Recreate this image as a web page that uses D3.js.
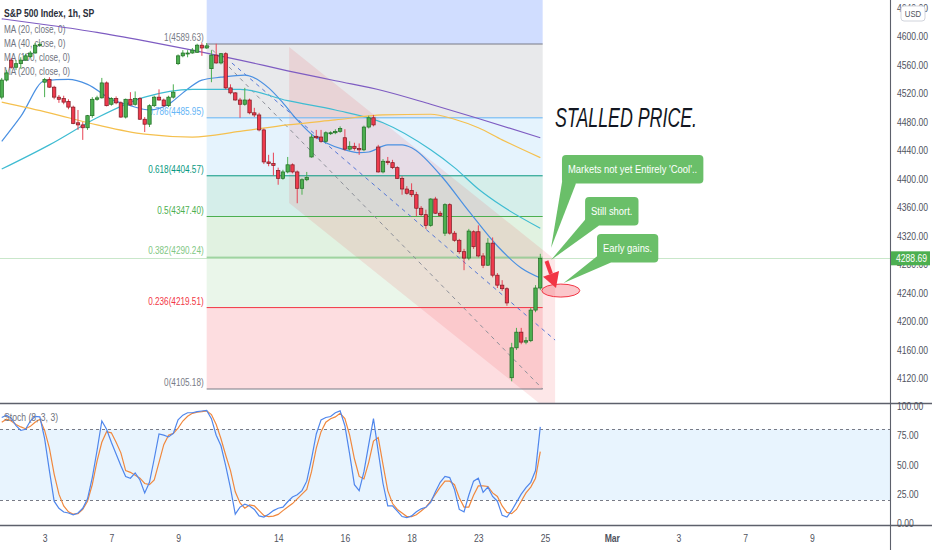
<!DOCTYPE html>
<html>
<head>
<meta charset="utf-8">
<title>S&amp;P 500 Index, 1h</title>
<script src="https://cdn.jsdelivr.net/npm/d3@7"></script>
<style>
  body { margin: 0; background: #fff; }
  svg { display: block; }
  text { font-family: "Liberation Sans", Arial, sans-serif; }
</style>
</head>
<body>
<svg class="chart"></svg>
<script>
// ---- values ----
// bar index 0 = Feb 1 first hourly bar, 7 bars per session
const firstBar = 5;
const candles = [ // [open, high, low, close]
  [4515,4542,4512,4539],[4539,4553,4537,4549],
  [4567,4570,4555,4557],[4557,4567,4553,4562],[4562,4571,4555,4567],[4567,4576,4566,4573],[4572,4580,4570,4577],[4577,4591,4576,4588],[4588,4592,4586,4589],
  [4536,4542,4515,4540],[4540,4543,4528,4529],[4529,4531,4512,4515],[4515,4518,4507,4512],[4513,4517,4505,4508],[4509,4512,4498,4501],[4501,4503,4477,4478],
  [4479,4497,4469,4476],[4476,4480,4455,4472],[4472,4490,4469,4489],[4489,4515,4486,4512],[4512,4517,4510,4514],[4514,4542,4513,4535],[4535,4537,4502,4503],
  [4505,4515,4503,4513],[4513,4516,4505,4507],[4507,4509,4486,4487],[4487,4513,4485,4512],[4512,4522,4503,4504],[4505,4523,4503,4513],[4513,4515,4483,4484],
  [4484,4487,4466,4477],[4477,4505,4473,4503],[4503,4517,4501,4515],[4515,4526,4510,4511],[4511,4513,4501,4503],[4503,4517,4501,4515],[4515,4533,4513,4522],
  [4562,4575,4560,4573],[4573,4581,4571,4577],[4576,4581,4571,4577],[4577,4584,4576,4581],[4578,4590,4577,4588],[4588,4591,4573,4584],[4584,4591,4583,4587],
  [4555,4581,4536,4574],[4574,4590,4562,4563],[4563,4577,4561,4576],[4576,4578,4526,4528],[4528,4533,4519,4521],[4521,4522,4510,4511],[4511,4514,4486,4505],
  [4505,4528,4503,4511],[4511,4513,4491,4493],[4493,4500,4487,4490],[4490,4493,4467,4469],[4469,4471,4421,4424],[4424,4434,4418,4422],[4422,4437,4405,4419],
  [4412,4416,4392,4401],[4401,4413,4399,4410],[4410,4431,4408,4420],[4420,4422,4408,4410],[4410,4412,4366,4387],[4387,4401,4378,4399],[4399,4410,4397,4402],
  [4431,4463,4430,4459],[4460,4469,4456,4458],[4459,4469,4451,4453],[4453,4467,4451,4465],[4465,4467,4462,4465],[4465,4470,4463,4467],[4467,4474,4465,4471],
  [4458,4470,4440,4442],[4442,4453,4440,4446],[4446,4451,4440,4443],[4443,4450,4434,4441],[4441,4475,4439,4473],[4473,4489,4471,4486],[4486,4490,4474,4476],
  [4445,4448,4409,4410],[4410,4428,4408,4425],[4425,4431,4420,4423],[4423,4427,4414,4416],[4416,4418,4400,4401],[4401,4404,4378,4386],[4386,4390,4378,4380],
  [4384,4394,4375,4378],[4378,4382,4348,4359],[4359,4362,4348,4350],[4350,4357,4330,4335],[4335,4373,4333,4372],[4372,4375,4351,4352],[4352,4355,4347,4349],
  [4324,4366,4320,4364],[4364,4366,4322,4324],[4324,4327,4312,4314],[4314,4316,4295,4298],[4298,4302,4272,4289],[4289,4330,4286,4327],[4326,4328,4302,4305],
  [4326,4335,4290,4292],[4292,4296,4275,4279],[4279,4317,4278,4310],[4310,4318,4262,4265],[4265,4268,4247,4251],[4251,4258,4243,4246],[4246,4248,4222,4226],
  [4121,4170,4116,4163],[4163,4191,4160,4185],[4185,4191,4168,4171],[4171,4178,4168,4173],[4173,4219,4171,4216],[4216,4251,4213,4247],[4247,4295,4244,4288.69]
];
const lastPrice = 4288.69;

// moving averages, [bar index, value]
const ma20 = [[5,4453],[9,4488],[14,4538],[19,4540],[23,4533],[28,4512],[32,4503],[36,4497],[40,4505],[43,4521],
  [47,4539],[51,4543],[56,4546],[61,4528],[64,4507],[67,4483],[70,4463],[73,4451],[77,4441],
  [80,4437],[82,4438],[86,4448],[89,4448],[91,4444],[97,4406],[103,4355],[109,4306],[114,4275],[118,4261]];
const ma40 = [[5,4414],[15,4448],[25,4486],[35,4515],[45,4526],[55,4526],[65,4510],[75,4497],[85,4479],[95,4441],[100,4416],[105,4386],[110,4362],[118,4331]];
const ma100 = [[5,4508],[15,4493],[25,4476],[35,4463],[45,4459],[55,4467],[65,4476],[75,4483],[85,4490],[95,4491],[100,4484],[105,4472],[110,4455],[118,4430]];
const ma200 = [[5,4625],[15,4616],[25,4606],[35,4594],[45,4581],[55,4567],[65,4552],[75,4538],[85,4524],[95,4505],[105,4485],[118,4458]];

// stochastic (8, 3, 3), one value per visible bar
const stochK = [90,92,89.5,83,79,80,87,91,90.5,72, 45,19,13,9.8,9,7.5,9,13,21,39,
  62,87,80,69,59,49,40,38.5,43,37, 26,35,55,76,75,73.5,76.5,88,92,94,
  94,95,95.5,96,89,75,66,49,30,8, 14,16.5,15,12,6.5,5.6,8,11,13,14,
  18.5,22.5,24.5,28,36,55,76,88,90,90.8, 94,95.6,83,59,33,28,44,67,89,61,
  34,15,15,10.5,6,5,6.5,10,12.5,13.8, 18,27,35,40,39,29,12,10,24,36,
  38.5,26.5,31,23,19,7,5.6,11,18,25, 30.5,35,45,82];
const stochD = [86,88.5,87,84,82,80.5,82.5,86,88.5,79, 64,42,25,15,10,8,8.5,12,19,33,
  53,69,78,77,69,60,45,43.5,41,38.5, 34,33,37,52,67,75,76.5,81,87,91,
  93.5,94.5,95,95.6,92.5,84,72,58,45,27, 17.5,13,15.8,15,11,7,6,6.3,7.8,11,
  14,17,21,25,29,44,64,78,86,89, 90.5,93.5,89,75,55,40,38,52,70,73,
  50,28,17,12,9,6,6,7.5,10.7,14, 19,25,31,36,36,33,22,14,14,24,
  32,32,31.5,26,23,15,9.5,8.5,12,19, 26,31,38.5,61];

const dayTicks = [14, 28, 42, 63, 77, 91, 105, 119, 133, 147, 161, 175];
const dayLabels = ['3', '7', '9', '14', '16', '18', '23', '25', 'Mar', '3', '7', '9'];
const priceTicks = [4120, 4160, 4200, 4240, 4280, 4320, 4360, 4400, 4440, 4480, 4520, 4560, 4600, 4640];
const stochTicks = [0, 25, 50, 75, 100];

// fibonacci retracement drawing
const fibLevels = [1.618, 1, 0.786, 0.618, 0.5, 0.382, 0.236, 0];
const fibPrices = [4889.02, 4589.63, 4485.95, 4404.57, 4347.40, 4290.24, 4219.51, 4105.18];
const fibColors = ['#2962ff', '#787b86', '#64b5f6', '#089981', '#4caf50', '#81c784', '#f23645', '#787b86'];
const fibSpan = [48, 118.5];

// other drawings, anchored at [bar index, price]
const channel = [[65.3, 4585.4], [121.1, 4286.7], [121.1, 4067.5], [65.3, 4366.3]];
const dashedLines = [
  {from: [48, 4589.63], to: [118.5, 4105.18], color: '#8d9099'},
  {from: [53.3, 4562.9], to: [121.1, 4173.9], color: '#5677d6'}
];
const callouts = [
  {text: "Markets not yet Entirely 'Cool'..", box: [122.55, 4433.7], tip: [120.25, 4303.1]},
  {text: 'Still short.', box: [127.4, 4374.8], tip: [120.25, 4286.3]},
  {text: 'Early gains.', box: [129.9, 4322.8], tip: [122.9, 4254.0]}
];
const arrow = {tail: [119.3, 4284.9], tip: [121.3, 4247.0]};
const ellipse = {at: [122.3, 4243.4]};
const headline = {text: 'STALLED PRICE.', at: [121.1, 4473.1]};

const maSeries = [
  {label: 'MA (20, close, 0)', values: ma20, color: '#4a90e2'},
  {label: 'MA (40, close, 0)', values: ma40, color: '#3fbcd2'},
  {label: 'MA (100, close, 0)', values: ma100, color: '#f5c04e'},
  {label: 'MA (200, close, 0)', values: ma200, color: '#7e5cc2'}
];

// ---- layout ----
const width = 932, height = 550;
const plotRight = 890;
const mainBottom = 403.5;
const axisTop = 525.5;
const squeeze = 0.82; // the chart's labels use a narrow face

const x = d3.scaleLinear().domain([0, 190]).range([-22.1, 883.44]);
const y = d3.scaleLinear().domain([4105.18, 4589.63]).range([389, 44]);
const ys = d3.scaleLinear().domain([0, 100]).range([523.6, 405.7]);

// squeeze text horizontally to imitate a narrow font
function narrow(sel) {
  sel.each(function() {
    const t = d3.select(this);
    const tx = +t.attr('x') || 0, ty = +t.attr('y') || 0;
    t.attr('x', 0).attr('y', 0)
      .attr('transform', `translate(${tx},${ty}) scale(${squeeze},1)`);
  });
}

const svg = d3.select('.chart')
  .attr('width', width)
  .attr('height', height);

const defs = svg.append('defs');
defs.append('clipPath').attr('id', 'clip-main')
  .append('rect').attr('width', plotRight).attr('height', mainBottom);
defs.append('clipPath').attr('id', 'clip-stoch')
  .append('rect').attr('y', mainBottom).attr('width', plotRight).attr('height', axisTop - mainBottom);

const main = svg.append('g').attr('clip-path', 'url(#clip-main)');
const lower = svg.append('g').attr('clip-path', 'url(#clip-stoch)');

// legend sits under the series
const legend = main.append('g');
legend.append('text')
  .attr('x', 4).attr('y', 17)
  .attr('font-size', 10.5).attr('font-weight', 'bold').attr('fill', '#2a2e39')
  .text('S&P 500 Index, 1h, SP');
legend.selectAll('.ma-label')
  .data(maSeries)
  .enter()
.append('text')
  .attr('class', 'ma-label')
  .attr('x', 4)
  .attr('y', (d, k) => 32.5 + k * 14.3)
  .attr('font-size', 10)
  .attr('fill', '#6f737e')
  .text(d => d.label);

// fib bands
const fx0 = x(fibSpan[0]), fx1 = x(fibSpan[1]);
main.selectAll('.fib-band')
  .data(d3.pairs(fibPrices).map((p, k) => ({top: p[0], bottom: p[1], color: fibColors[k]})))
  .enter()
.append('rect')
  .attr('class', 'fib-band')
  .attr('x', fx0)
  .attr('width', fx1 - fx0)
  .attr('y', d => y(d.top))
  .attr('height', d => y(d.bottom) - y(d.top))
  .attr('fill', d => d.color)
  .attr('fill-opacity', d => d.color === '#2962ff' ? 0.22 : 0.17);

// channel
main.append('path')
  .attr('d', d3.line().x(d => x(d[0])).y(d => y(d[1]))(channel) + 'Z')
  .attr('fill', '#f23645')
  .attr('fill-opacity', 0.12);

// last price line
main.append('line')
  .attr('x1', 0).attr('x2', plotRight)
  .attr('y1', Math.round(y(lastPrice)) + 0.5).attr('y2', Math.round(y(lastPrice)) + 0.5)
  .attr('stroke', '#4caf50').attr('stroke-opacity', 0.3);

// fib lines and labels
const fibRows = fibLevels.map((lv, k) => ({level: lv, price: fibPrices[k], color: fibColors[k]})).slice(1);
main.selectAll('.fib-line')
  .data(fibRows)
  .enter()
.append('line')
  .attr('class', 'fib-line')
  .attr('x1', fx0).attr('x2', fx1)
  .attr('y1', d => y(d.price)).attr('y2', d => y(d.price))
  .attr('stroke', d => d.color)
  .attr('stroke-width', 1);
main.selectAll('.fib-label')
  .data(fibRows)
  .enter()
.append('text')
  .attr('class', 'fib-label')
  .attr('x', fx0 - 3)
  .attr('y', d => y(d.price) - 3)
  .attr('text-anchor', 'end')
  .attr('font-size', 10)
  .attr('fill', d => d.color)
  .text(d => `${d.level}(${d.price.toFixed(2)})`);

// dashed trend lines
main.selectAll('.dash')
  .data(dashedLines)
  .enter()
.append('line')
  .attr('class', 'dash')
  .attr('x1', d => x(d.from[0])).attr('y1', d => y(d.from[1]))
  .attr('x2', d => x(d.to[0])).attr('y2', d => y(d.to[1]))
  .attr('stroke', d => d.color)
  .attr('stroke-width', 1)
  .attr('stroke-dasharray', '4,4');

// moving averages
const maLine = d3.line()
  .x(d => x(d[0]))
  .y(d => y(d[1]))
  .curve(d3.curveMonotoneX);
main.selectAll('.ma')
  .data(maSeries)
  .enter()
.append('path')
  .attr('class', 'ma')
  .attr('d', d => maLine(d.values))
  .attr('fill', 'none')
  .attr('stroke', d => d.color)
  .attr('stroke-width', 1.2);

// candles
const bars = candles.map((d, k) => ({i: firstBar + k, o: d[0], h: d[1], l: d[2], c: d[3]}));
const bodyW = 3.4;
const up = d => d.c >= d.o;
main.selectAll('.wick')
  .data(bars)
  .enter()
.append('line')
  .attr('class', 'wick')
  .attr('x1', d => x(d.i)).attr('x2', d => x(d.i))
  .attr('y1', d => y(d.h)).attr('y2', d => y(d.l))
  .attr('stroke', d => up(d) ? '#4caf50' : '#e84355')
  .attr('stroke-width', 1);
main.selectAll('.body')
  .data(bars)
  .enter()
.append('rect')
  .attr('class', 'body')
  .attr('x', d => x(d.i) - bodyW / 2)
  .attr('width', bodyW)
  .attr('y', d => y(Math.max(d.o, d.c)))
  .attr('height', d => Math.max(1, Math.abs(y(d.o) - y(d.c))))
  .attr('fill', d => up(d) ? '#4caf50' : '#ef3a4d')
  .attr('stroke', d => up(d) ? '#1e6b22' : '#7a1a22')
  .attr('stroke-width', 0.7);

// annotations
main.append('ellipse')
  .attr('cx', x(ellipse.at[0])).attr('cy', y(ellipse.at[1]))
  .attr('rx', 19).attr('ry', 6.5)
  .attr('fill', '#f23645').attr('fill-opacity', 0.28)
  .attr('stroke', '#f23645').attr('stroke-width', 1);

const ax1 = x(arrow.tail[0]), ay1 = y(arrow.tail[1]);
const ax2 = x(arrow.tip[0]), ay2 = y(arrow.tip[1]);
const ang = Math.atan2(ay2 - ay1, ax2 - ax1);
const ux = Math.cos(ang), uy = Math.sin(ang);
const hx = ax2 - 15 * ux, hy = ay2 - 15 * uy;
main.append('line')
  .attr('x1', ax1).attr('y1', ay1).attr('x2', hx).attr('y2', hy)
  .attr('stroke', '#f23645').attr('stroke-width', 4);
main.append('path')
  .attr('d', `M${ax2},${ay2}L${hx - 8.5 * uy},${hy + 8.5 * ux}L${hx + 8.5 * uy},${hy - 8.5 * ux}Z`)
  .attr('fill', '#f23645');

callouts.forEach(c => {
  const bx = x(c.box[0]), by = y(c.box[1]);
  const tx = x(c.tip[0]), ty = y(c.tip[1]);
  const g = main.append('g');
  const t = g.append('text')
    .attr('x', bx + 6).attr('y', by + 18)
    .attr('font-size', 11.5)
    .attr('fill', '#fff')
    .text(c.text);
  const w = t.node().getComputedTextLength() * squeeze + 12, h = 28.5;
  t.call(narrow);
  g.insert('path', 'text')
    .attr('d', `M${bx + 1},${by + h - 7}L${tx},${ty}L${bx + 14},${by + h}Z`)
    .attr('fill', '#6abf69');
  g.insert('rect', 'text')
    .attr('x', bx).attr('y', by)
    .attr('width', w).attr('height', h)
    .attr('rx', 4)
    .attr('fill', '#6abf69');
});

main.append('text')
  .attr('class', 'headline')
  .attr('x', x(headline.at[0]))
  .attr('y', y(headline.at[1]))
  .attr('font-size', 27)
  .attr('font-style', 'italic')
  .attr('fill', '#131722')
  .attr('textLength', 142)
  .attr('lengthAdjust', 'spacingAndGlyphs')
  .text(headline.text);

// stochastic pane
lower.append('rect')
  .attr('x', 0).attr('width', plotRight)
  .attr('y', ys(80)).attr('height', ys(20) - ys(80))
  .attr('fill', '#2196f3').attr('fill-opacity', 0.1);
lower.selectAll('.band-line')
  .data([80, 20])
  .enter()
.append('line')
  .attr('class', 'band-line')
  .attr('x1', 0).attr('x2', plotRight)
  .attr('y1', d => Math.round(ys(d)) + 0.5).attr('y2', d => Math.round(ys(d)) + 0.5)
  .attr('stroke', '#787b86')
  .attr('stroke-dasharray', '3,3');

const stochLine = d3.line()
  .x((d, k) => x(firstBar + k))
  .y(d => ys(d));
lower.append('path')
  .attr('d', stochLine(stochD))
  .attr('fill', 'none').attr('stroke', '#f0883e').attr('stroke-width', 1.2);
lower.append('path')
  .attr('d', stochLine(stochK))
  .attr('fill', 'none').attr('stroke', '#4f86ec').attr('stroke-width', 1.2);
lower.append('text')
  .attr('x', 4).attr('y', 421)
  .attr('font-size', 10.5).attr('fill', '#6f737e')
  .text('Stoch (8, 3, 3)');

// pane borders
svg.append('line')
  .attr('x1', 0).attr('x2', width).attr('y1', mainBottom).attr('y2', mainBottom)
  .attr('stroke', '#5d606b').attr('stroke-width', 1.3);
svg.append('line')
  .attr('x1', 0).attr('x2', width).attr('y1', axisTop).attr('y2', axisTop)
  .attr('stroke', '#5d606b').attr('stroke-width', 1.3);
svg.append('line')
  .attr('x1', plotRight + 0.5).attr('x2', plotRight + 0.5).attr('y1', 0).attr('y2', height)
  .attr('stroke', '#5d606b').attr('stroke-width', 1.1);

// axes
const styleAxis = g => {
  g.select('.domain').remove();
  g.selectAll('text')
    .attr('fill', '#50535e')
    .attr('font-size', 10.5)
    .attr('font-family', '"Liberation Sans", Arial, sans-serif');
};

const yAxis = d3.axisRight(y)
  .tickValues(priceTicks)
  .tickFormat(d3.format('.2f'))
  .tickSize(0)
  .tickPadding(7);
svg.append('g')
  .attr('transform', `translate(${plotRight}, 0)`)
  .call(yAxis)
  .call(styleAxis);

const sAxis = d3.axisRight(ys)
  .tickValues(stochTicks)
  .tickFormat(d3.format('.2f'))
  .tickSize(0)
  .tickPadding(7);
svg.append('g')
  .attr('transform', `translate(${plotRight}, 0)`)
  .call(sAxis)
  .call(styleAxis);

const xAxis = d3.axisBottom(x)
  .tickValues(dayTicks)
  .tickFormat((d, k) => dayLabels[k])
  .tickSize(0)
  .tickPadding(9);
svg.append('g')
  .attr('transform', `translate(0, ${axisTop})`)
  .call(xAxis)
  .call(styleAxis)
  .selectAll('text')
  .attr('font-weight', d => d === 133 ? 'bold' : null);

// last price tag
svg.append('rect')
  .attr('x', plotRight + 1).attr('y', y(lastPrice) - 7)
  .attr('width', 39).attr('height', 14)
  .attr('fill', '#4caf50');
svg.append('text')
  .attr('x', plotRight + 6).attr('y', y(lastPrice))
  .attr('dy', '0.35em')
  .attr('font-size', 10.5)
  .attr('fill', '#fff')
  .text(lastPrice.toFixed(2));

// currency badge
svg.append('rect')
  .attr('x', 901).attr('y', 6)
  .attr('width', 24).attr('height', 15)
  .attr('rx', 3)
  .attr('fill', '#fff')
  .attr('stroke', '#d1d4dc');
svg.append('text')
  .attr('x', 913).attr('y', 17)
  .attr('text-anchor', 'middle')
  .attr('font-size', 9.5)
  .attr('fill', '#50535e')
  .text('USD');

// narrow every remaining label
svg.selectAll('text')
  .filter(function() { return !this.hasAttribute('textLength') && !this.hasAttribute('transform'); })
  .call(narrow);
</script>
</body>
</html>
